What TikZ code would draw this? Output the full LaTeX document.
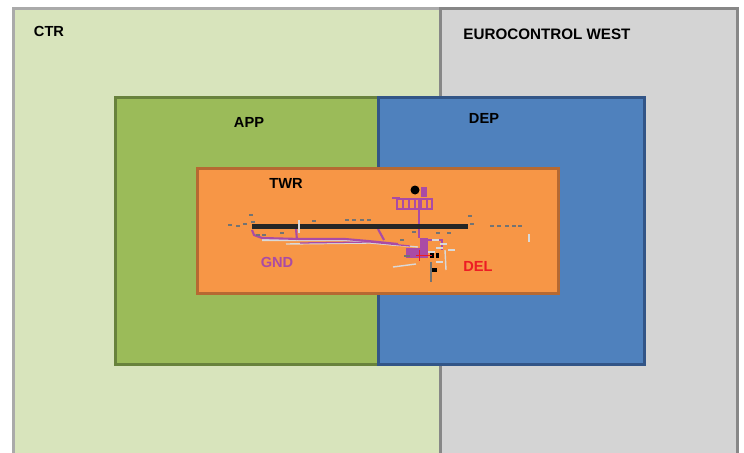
\documentclass[tikz,border=0pt]{standalone}
\usepackage{fontspec}
\setmainfont{Liberation Sans}
\definecolor{ctrfill}{RGB}{216,228,188}
\definecolor{ctrline}{RGB}{170,170,170}
\definecolor{eurofill}{RGB}{212,212,212}
\definecolor{euroline}{RGB}{135,135,135}
\definecolor{appfill}{RGB}{155,187,89}
\definecolor{appline}{RGB}{104,130,60}
\definecolor{depfill}{RGB}{79,129,189}
\definecolor{depline}{RGB}{50,85,135}
\definecolor{twrfill}{RGB}{247,150,70}
\definecolor{twrline}{RGB}{182,105,50}
\definecolor{gndcol}{RGB}{170,75,165}
\definecolor{delcol}{RGB}{237,28,36}
\tikzset{
  sectorlabel/.style={font=\bfseries\fontsize{10.4}{12}\selectfont, text=black},
  taxiway/.style={draw=gndcol, line width=1.5pt},
  service/.style={draw=white!70!gray, line width=1pt},
  mapmark/.style={draw=black!55, line width=1pt}
}
\begin{document}
\begin{tikzpicture}[x=0.025cm,y=-0.025cm]
      \useasboundingbox (0,0) rectangle (744,453);
      \fill [white] (0,0) rectangle (744,453);
      % sectors: border first, then the inside
      \fill [ctrline] (12,7.5) rectangle (441,480);
      \fill [ctrfill] (15,10.5) rectangle (438.5,480);
      \fill [euroline] (438.5,7.5) rectangle (738.5,480);
      \fill [eurofill] (441.5,10.5) rectangle (735.5,480);
      \fill [appline] (113.5,96.5) rectangle (379.5,365.5);
      \fill [appfill] (116.5,99.5) rectangle (376.5,362.5);
      \fill [depline] (376.5,96.5) rectangle (645.5,365.5);
      \fill [depfill] (379.5,99.5) rectangle (642.5,362.5);
      \fill [twrline] (195.5,166.5) rectangle (559.5,294.5);
      \fill [twrfill] (198.5,169.5) rectangle (556.5,291.5);
      % taxiways
      \draw [service,line width=1.6pt] (262,240)--(345,240)--(370,242)--(398,245);
      \draw [taxiway] (252,230)--(254,235)--(262,238)--(300,239)--(345,239)--(368,241)--(398,244);
      \draw [service] (286,244)--(370,243)--(418,247);
      \draw [taxiway,line width=0.9pt] (300,243)--(370,242)--(410,246);
      \draw [taxiway] (296,229)--(297,240);
      \draw [taxiway] (378,229)--(384,240);
      \draw [taxiway] (419,199)--(419,238);
      \draw [taxiway] (397,199)--(432,199)--(432,209)--(397,209)--cycle;
      \foreach \x in {403,409,415,421,427}
        \draw [taxiway,line width=1pt] (\x,199)--(\x,209);
      \draw [taxiway] (392,198)--(400,198);
      % apron
      \fill [gndcol] (420,238) rectangle (428,250);
      \fill [gndcol] (406,248) rectangle (428,258);
      \fill [gndcol] (421,187) rectangle (427,197);
      \draw [taxiway] (428,240)--(442,240)--(442,250);
      \fill [black] (415,190) circle (4.5);
      % runway
      \fill [black!85] (252,224) rectangle (468,229);
      % marks round the runway
      \foreach \x/\y in {249/215,251/222,312/221,345/220,352/220,360/220,367/220,
                         468/216,470/224,490/226,497/226,505/226,512/226,518/226,
                         228/225,236/226,243/224,400/240,412/232,447/233,436/233,
                         256/235,262/235,280/233}
        \draw [mapmark] (\x,\y)--++(4,0);
      \draw [service,line width=1pt] (299,220)--(299,233);
      \draw [service] (529,234)--(529,242);
      \foreach \x/\y in {432/240,436/248,440/244,448/250,428/252,436/262}
        \draw [service,line width=1.4pt] (\x,\y)--++(7,0);
      \draw [service] (445,250)--(446,270);
      \draw [service] (393,267)--(416,264);
      % parking blocks
      \fill [black] (430,253) rectangle (434,258);
      \fill [black] (436,253) rectangle (439,258);
      \fill [black] (432,268) rectangle (437,272);
      \draw [mapmark] (431,262)--(431,282);
      \draw [mapmark] (404,256)--(410,256);
      % red aircraft mark
      \draw [delcol,line width=0.6pt] (416,255)--(432,255);
      \draw [delcol,line width=0.6pt] (419,250)--(419,261);
      % labels
      \node [sectorlabel] (ctr) at (49,31) {CTR};
      \node [sectorlabel,font=\bfseries\fontsize{10.8}{12}\selectfont] (euro) at (547,34) {EUROCONTROL WEST};
      \node [sectorlabel] (app) at (249,122) {APP};
      \node [sectorlabel] (dep) at (484,118) {DEP};
      \node [sectorlabel] (twr) at (286,183) {TWR};
      \node [sectorlabel,text=gndcol] (gnd) at (277,262) {GND};
      \node [sectorlabel,text=delcol] (del) at (478,266) {DEL};
\end{tikzpicture}
\end{document}
